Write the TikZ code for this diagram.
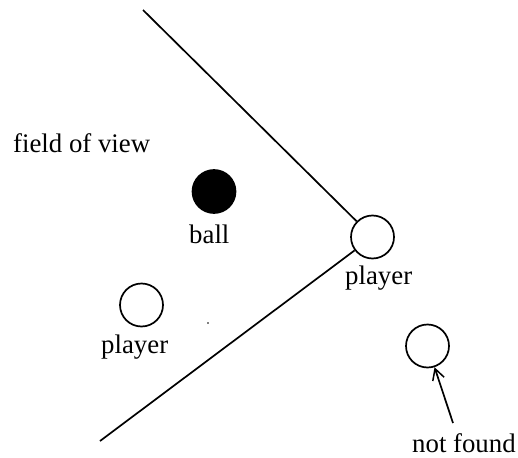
\documentclass[tikz,border=0pt]{standalone}
\usepackage{fontspec}
\setmainfont{Liberation Serif}
\usetikzlibrary{arrows.meta}
\begin{document}
\begin{tikzpicture}[x=1pt,y=-1pt,
  every node/.style={font=\fontsize{26.8}{30}\selectfont},
  ln/.style={line width=1.7pt},
  disc/.style={circle,draw,line width=1.7pt,minimum size=43pt,inner sep=0pt},
  lbl/.style={anchor=base west,inner sep=0pt}]
\useasboundingbox (0,0) rectangle (518,457);
% circles
\node[disc] (me) at (372.5,237) {};
\node[disc,fill=black] (ball) at (214,191.5) {};
\node[disc] (mate) at (141.5,305) {};
\node[disc] (lost) at (427.5,346) {};
% labels
\node[lbl] (fov) at (13,152) {field of view};
\node[lbl] (balllbl) at (189,243) {ball};
\node[lbl] (melbl) at (345,284) {player};
\node[lbl] (matelbl) at (101,353) {player};
\node[lbl] (lostlbl) at (412,452) {not found};
% field of view edges
\coordinate (top) at (143,10);
\coordinate (bot) at (100,441);
\coordinate (tail) at (453,423);
\draw[ln] (top) -- (me);
\draw[ln] (bot) -- (me);
\draw[ln,-{Straight Barb[length=11pt,width=12pt,line width=1.5pt]}] (tail) -- (lost);
\fill (208,323) circle (0.9pt);
\end{tikzpicture}
\end{document}
